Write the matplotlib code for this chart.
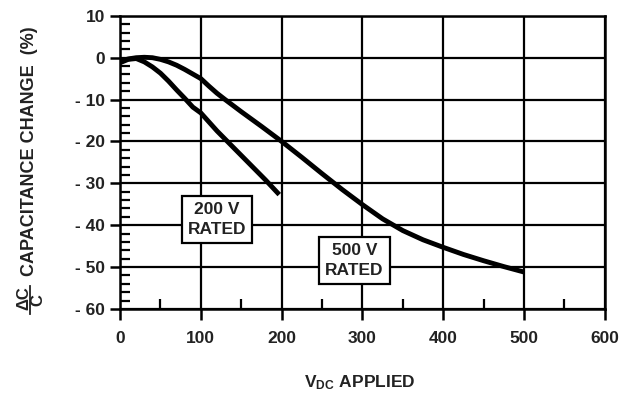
import numpy as np
import matplotlib
matplotlib.use("Agg")
import matplotlib.pyplot as plt
from matplotlib.lines import Line2D
from matplotlib.ticker import FixedLocator, MultipleLocator, FixedFormatter

plt.rcParams['font.family'] = ['Liberation Sans', 'DejaVu Sans']
plt.rcParams['font.weight'] = 'bold'
plt.rcParams['mathtext.fontset'] = 'custom'
plt.rcParams['mathtext.rm'] = 'Liberation Sans:bold'
plt.rcParams['mathtext.it'] = 'Liberation Sans:bold'
plt.rcParams['mathtext.bf'] = 'Liberation Sans:bold'

# 200 V rated curve
v200 = [0, 10, 20, 30, 40, 50, 60, 70, 80, 90, 100, 120, 140, 160, 180, 197]
c200 = [-1.2, -0.4, -0.2, -1.0, -2.2, -3.7, -5.6, -7.7, -9.7, -11.8, -13.2,
        -17.5, -21.4, -25.3, -29.2, -32.7]

# 500 V rated curve
v500 = [0, 10, 20, 30, 40, 50, 60, 70, 80, 90, 100, 110, 120, 130, 150, 175,
        200, 225, 250, 275, 300, 325, 350, 375, 400, 425, 450, 475, 500]
c500 = [-0.8, -0.3, 0.0, 0.1, 0.0, -0.4, -1.0, -1.8, -2.8, -3.9, -5.0, -6.8,
        -8.5, -10.0, -12.9, -16.4, -20.0, -23.8, -27.7, -31.5, -35.1, -38.5,
        -41.3, -43.5, -45.3, -47.0, -48.5, -49.9, -51.2]

yticks = [10, 0, -10, -20, -30, -40, -50, -60]
ylabels = ['10', '0', '- 10', '- 20', '- 30', '- 40', '- 50', '- 60']
xticks = [0, 100, 200, 300, 400, 500, 600]

txt = '#222222'

fig = plt.figure(figsize=(6.32, 3.96), dpi=100)
ax = fig.add_axes([0.190, 0.220, 0.767, 0.740])

ax.plot(v200, c200, color='black', lw=3.5, solid_capstyle='butt', zorder=3)
ax.plot(v500, c500, color='black', lw=3.5, solid_capstyle='butt', zorder=3)

ax.set_xlim(0, 600)
ax.set_ylim(-60, 10)

ax.yaxis.set_major_locator(FixedLocator(yticks))
ax.yaxis.set_major_formatter(FixedFormatter(ylabels))
ax.yaxis.set_minor_locator(MultipleLocator(2))
ax.xaxis.set_major_locator(FixedLocator(xticks))
ax.xaxis.set_minor_locator(MultipleLocator(50))

ax.grid(True, which='major', color='black', lw=1.6)
ax.set_axisbelow(True)
for s in ax.spines.values():
    s.set_linewidth(1.8)

ax.tick_params(axis='y', which='major', direction='out', length=7, width=1.8,
               labelsize=12.5, labelcolor=txt, pad=4)
ax.tick_params(axis='y', which='minor', direction='in', length=7, width=1.6)
ax.tick_params(axis='x', which='major', direction='out', length=8, width=1.8,
               labelsize=12.5, labelcolor=txt, pad=8)
ax.tick_params(axis='x', which='minor', direction='in', length=7, width=1.6)
for lab in ax.get_xticklabels() + ax.get_yticklabels():
    lab.set_fontweight('bold')

box = dict(boxstyle='square,pad=0.35', facecolor='white', edgecolor='black', lw=1.6)
ax.text(120, -38.7, '200 V\nRATED', ha='center', va='center', fontsize=12.5,
        color=txt, fontweight='bold', linespacing=1.45, bbox=box, zorder=4)
ax.text(290, -48.4, '500 V\nRATED', ha='center', va='center', fontsize=12.5,
        color=txt, fontweight='bold', linespacing=1.45, bbox=box, zorder=4)

# x axis title with subscript
fig.text(360 / 632, 1 - 387 / 396, r'$\mathbf{V_{DC}\ APPLIED}$', ha='center',
         va='baseline', fontsize=12.5, color=txt)

# y axis title: fraction + text
fig.text(30 / 632, 1 - 151 / 396, 'CAPACITANCE CHANGE  (%)', rotation=90,
         ha='center', va='center', fontsize=13, fontweight='bold', color=txt)
fig.text(24 / 632, 1 - 298 / 396, '\u0394C', rotation=90, ha='center',
         va='center', fontsize=12, fontweight='bold', color=txt)
fig.text(37.5 / 632, 1 - 300 / 396, 'C', rotation=90, ha='center',
         va='center', fontsize=12, fontweight='bold', color=txt)
fig.add_artist(Line2D([30 / 632, 30 / 632], [1 - 286 / 396, 1 - 314 / 396],
                      color=txt, lw=1.3, transform=fig.transFigure))

fig.savefig('out.png', dpi=100)
